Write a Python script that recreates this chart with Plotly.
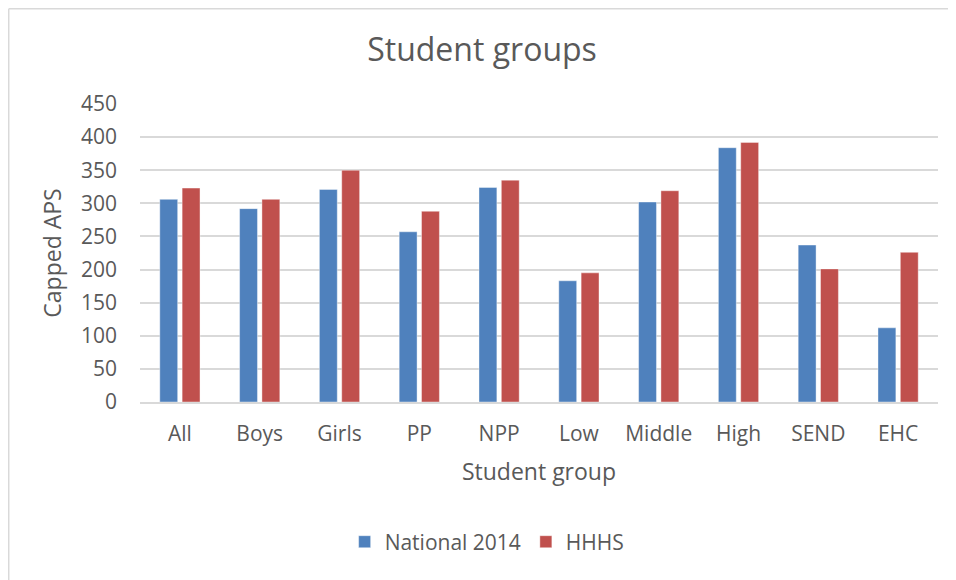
import plotly.graph_objects as go

categories = ["All", "Boys", "Girls", "PP", "NPP", "Low", "Middle", "High", "SEND", "EHC"]
national_2014 = [306, 292, 321, 257, 324, 183, 302, 384, 237, 112]
hhhs = [323, 306, 350, 288, 335, 195, 319, 392, 201, 226]
y_ticks = [0, 50, 100, 150, 200, 250, 300, 350, 400, 450]

FONT = "Open Sans"
TXT = "#595959"
GRID = "#d9d9d9"

fig = go.Figure()
fig.add_trace(go.Bar(
    name="National 2014", x=categories, y=national_2014,
    marker=dict(color="#4f81bd", line=dict(color="rgba(255,255,255,0.5)", width=0.8)),
))
fig.add_trace(go.Bar(
    name="HHHS", x=categories, y=hhhs,
    marker=dict(color="#c0504d", line=dict(color="rgba(255,255,255,0.5)", width=0.8)),
))

fig.update_layout(
    width=948, height=572,
    margin=dict(l=132, r=18, t=96, b=178, pad=0),
    paper_bgcolor="white", plot_bgcolor="white",
    font=dict(family=FONT, color=TXT, size=21),
    barmode="group", bargap=0.44, bargroupgap=0.2,
    title=dict(text="Student groups", x=0.4286, xref="paper", xanchor="center",
               y=0.9266, yref="container", yanchor="middle",
               font=dict(family=FONT, size=32, color=TXT)),
    showlegend=True,
    legend=dict(orientation="h", x=0.435, xanchor="center", y=-0.47, yanchor="middle",
                font=dict(family=FONT, size=21, color=TXT), traceorder="normal",
                itemwidth=30, bgcolor="rgba(0,0,0,0)"),
    xaxis=dict(
        showgrid=False, showline=True, linecolor=GRID, linewidth=1.5,
        ticks="", ticklabelstandoff=12,
        tickfont=dict(family=FONT, size=21, color=TXT),
        title=dict(text="Student group", standoff=18,
                   font=dict(family=FONT, size=23, color=TXT)),
    ),
    yaxis=dict(
        range=[0, 450], tickvals=y_ticks, showgrid=True, gridcolor=GRID, gridwidth=1.5,
        zeroline=False, showline=False, ticks="", ticklabelstandoff=22,
        tickfont=dict(family=FONT, size=21, color=TXT),
        title=dict(text="Capped APS", standoff=12,
                   font=dict(family=FONT, size=23, color=TXT)),
    ),
    shapes=[
        dict(type="line", xref="paper", yref="paper", x0=-0.1645, x1=-0.1645, y0=-0.62, y1=1.3196,
             line=dict(color=GRID, width=1.5)),
        dict(type="line", xref="paper", yref="paper", x0=-0.1645, x1=1.03, y0=1.3196, y1=1.3196,
             line=dict(color=GRID, width=1.5)),
    ],
)

fig.write_html("out.html")
